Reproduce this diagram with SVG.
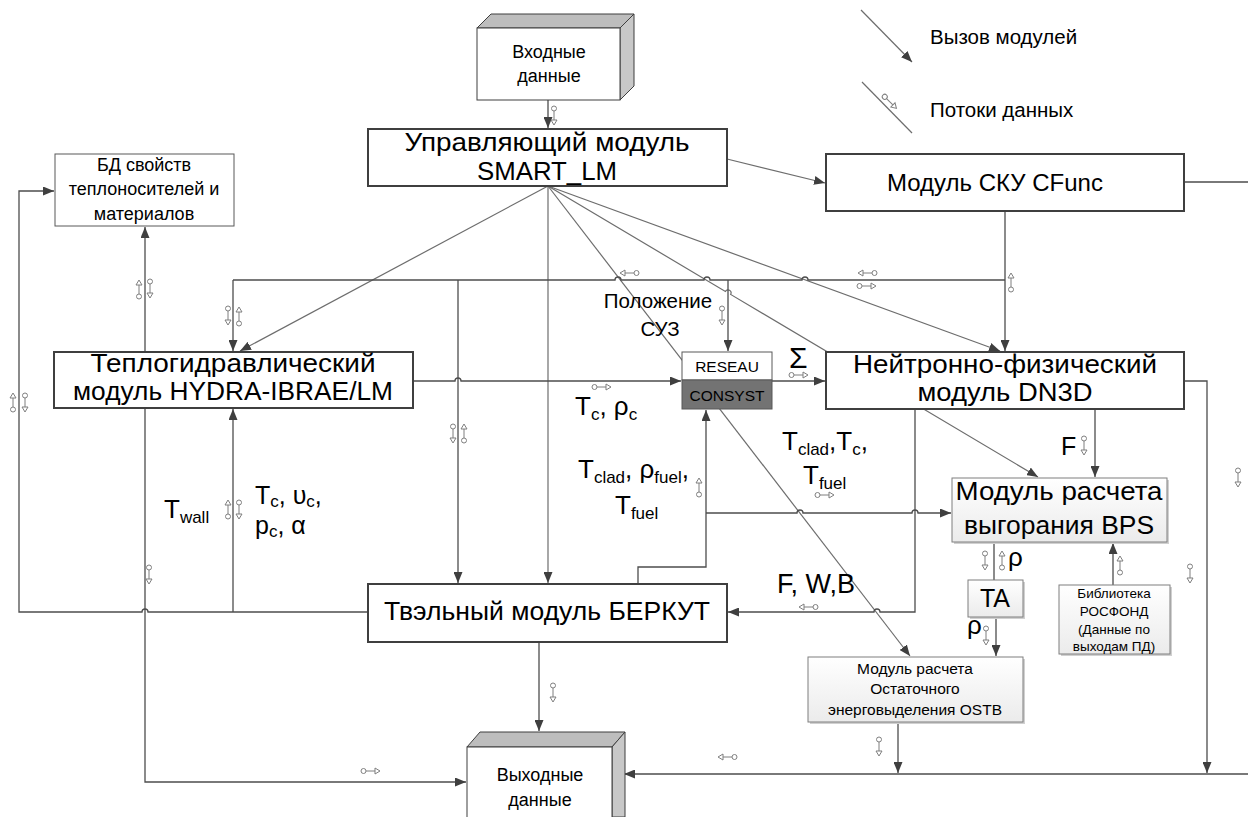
<svg xmlns="http://www.w3.org/2000/svg" xmlns:xlink="http://www.w3.org/1999/xlink" width="1248" height="817" viewBox="0 0 1248 817">
<style>
text{font-family:"Liberation Sans",Arial,sans-serif;fill:#000}
.big{font-size:25px}
.mid{font-size:18px}
.lbl{font-size:26px}
.sub{font-size:17px}
.box{fill:#fff;stroke:#3f3f3f;stroke-width:2}
.thin{fill:#fff;stroke:#595959;stroke-width:1}
.grad{fill:url(#g);stroke:#7f7f7f;stroke-width:1}
.shadow{fill:#d0d0d0}
.call{fill:none;stroke:#6d6d6d;stroke-width:1.2}
.data{fill:none;stroke:#4d4d4d;stroke-width:1.3}
.arr{marker-end:url(#ah)}
.df{fill:#fff;stroke:#7f7f7f;stroke-width:1}
</style>
<defs>
<linearGradient id="g" x1="0" y1="0" x2="0" y2="1">
<stop offset="0" stop-color="#ffffff"/>
<stop offset="1" stop-color="#ebebeb"/>
</linearGradient>
<marker id="ah" markerWidth="11" markerHeight="9" refX="11" refY="4.5" orient="auto" markerUnits="userSpaceOnUse">
<path d="M0,0 L11,4.5 L0,9 z" fill="#3f3f3f"/>
</marker>
<g id="df" class="df">
<circle cx="0" cy="2.5" r="2.5"/>
<path d="M0,5 V14" fill="none"/>
<path d="M-3,14 L3,14 L0,19 z"/>
</g>
</defs>

<g id="connectors">
<path class="data arr" d="M548,100 V128"/>
<path class="call arr" d="M727,159 L825,183"/>
<path class="call arr" d="M548,186 L240,351"/>
<path class="call arr" d="M548,186 V583"/>
<path class="call arr" d="M548,186 L910,656"/>
<path class="call arr" d="M548,186 L725.4,291.4 A3,3 0 0 1 730.6,294.4 L1038,477"/>
<path class="call arr" d="M548,186 L1000,351"/>
<path class="data" d="M1184,182 H1248"/>
<path class="data arr" d="M1005,211 V351"/>
<path class="data" d="M233,280 H615 A3,3 0 0 1 621,280 H704 A3,3 0 0 1 710,280 H802 A3,3 0 0 1 808,280 H1005"/>
<path class="data arr" d="M233,280 V351"/>
<path class="data arr" d="M458,280 V583"/>
<path class="data arr" d="M728,280 V351"/>
<path class="data arr" d="M413,381 H455 A3,3 0 0 1 461,381 H681"/>
<path class="data arr" d="M772,381 H825"/>
<path class="data arr" d="M638,584 V567 H706 V410"/>
<path class="data arr" d="M706,513 H797 A3,3 0 0 1 803,513 H912 A3,3 0 0 1 918,513 H951"/>
<path class="data arr" d="M915,409 V612 H880 A3,3 0 0 0 874,612 H728"/>
<path class="data arr" d="M1095,409 V477"/>
<path class="data" d="M994,542 V580"/>
<path class="data arr" d="M996,617 V656"/>
<path class="data arr" d="M1113,585 V543"/>
<path class="data arr" d="M898,722 V773"/>
<path class="data arr" d="M1248,774 H624"/>
<path class="data arr" d="M1184,381 H1207 V773"/>
<path class="data arr" d="M539,642 V731"/>
<path class="data arr" d="M368,612 H148 A3,3 0 0 0 142,612 H19 V191 H54"/>
<path class="data arr" d="M233,612 V409"/>
<path class="data arr" d="M145,408 V782 H466"/>
<path class="data arr" d="M145,352 V227"/>
<path class="call arr" d="M861,10 L912,62"/>
<path class="call" d="M862,82 L912,133"/>
<use href="#df" transform="translate(554,106)"/>
<use href="#df" transform="translate(883,95) rotate(-45)"/>
<use href="#df" transform="translate(139,299) rotate(180)"/>
<use href="#df" transform="translate(150,279)"/>
<use href="#df" transform="translate(13,412) rotate(180)"/>
<use href="#df" transform="translate(25,393)"/>
<use href="#df" transform="translate(228,306)"/>
<use href="#df" transform="translate(239,326) rotate(180)"/>
<use href="#df" transform="translate(639,273) rotate(90)"/>
<use href="#df" transform="translate(877,273) rotate(90)"/>
<use href="#df" transform="translate(857,286) rotate(-90)"/>
<use href="#df" transform="translate(1011,292) rotate(180)"/>
<use href="#df" transform="translate(722,306)"/>
<use href="#df" transform="translate(453,424)"/>
<use href="#df" transform="translate(464,443) rotate(180)"/>
<use href="#df" transform="translate(592,387) rotate(-90)"/>
<use href="#df" transform="translate(789,375) rotate(-90)"/>
<use href="#df" transform="translate(699,497) rotate(180)"/>
<use href="#df" transform="translate(815,495) rotate(-90)"/>
<use href="#df" transform="translate(818,607) rotate(90)"/>
<use href="#df" transform="translate(1084,436)"/>
<use href="#df" transform="translate(985,551)"/>
<use href="#df" transform="translate(1002,570) rotate(180)"/>
<use href="#df" transform="translate(1120,575) rotate(180)"/>
<use href="#df" transform="translate(986,626)"/>
<use href="#df" transform="translate(879,737)"/>
<use href="#df" transform="translate(737,757) rotate(90)"/>
<use href="#df" transform="translate(1190,564)"/>
<use href="#df" transform="translate(1238,468)"/>
<use href="#df" transform="translate(553,683)"/>
<use href="#df" transform="translate(149,565)"/>
<use href="#df" transform="translate(361,771) rotate(-90)"/>
<use href="#df" transform="translate(228,519) rotate(180)"/>
<use href="#df" transform="translate(239,500)"/>
</g>

<g id="input">
<polygon points="477,28 491,14 634,14 620,28" fill="#bdbdbd" stroke="#3f3f3f" stroke-width="1"/>
<polygon points="620,28 634,14 634,86 620,100" fill="#c8c8c8" stroke="#3f3f3f" stroke-width="1"/>
<rect x="477" y="28" width="143" height="72" fill="#fff" stroke="#3f3f3f" stroke-width="1"/>
<text class="mid" text-anchor="middle"><tspan x="549" y="58">Входные</tspan><tspan x="549" y="82">данные</tspan></text>
</g>

<g id="smart">
<rect class="box" x="368" y="129" width="359" height="57"/>
<text class="big" text-anchor="middle"><tspan x="547" y="151" textLength="285" lengthAdjust="spacingAndGlyphs">Управляющий модуль</tspan><tspan x="547" y="180" textLength="140" lengthAdjust="spacingAndGlyphs">SMART_LM</tspan></text>
</g>

<g id="cfunc">
<rect class="box" x="826" y="154" width="358" height="57"/>
<text x="995" y="191" text-anchor="middle" font-size="24">Модуль СКУ CFunc</text>
</g>

<g id="bd">
<rect class="thin" x="55" y="154" width="179" height="72"/>
<text class="mid" text-anchor="middle"><tspan x="144" y="171">БД свойств</tspan><tspan x="144" y="195">теплоносителей и</tspan><tspan x="144" y="220">материалов</tspan></text>
</g>

<g id="hydra">
<rect class="box" x="54" y="352" width="359" height="56"/>
<text class="big" text-anchor="middle"><tspan x="233" y="372" textLength="285" lengthAdjust="spacingAndGlyphs">Теплогидравлический</tspan><tspan x="233" y="400" textLength="320" lengthAdjust="spacingAndGlyphs">модуль HYDRA-IBRAE/LM</tspan></text>
</g>

<g id="reseau">
<rect x="682" y="352" width="90" height="28" fill="#fff" stroke="#595959" stroke-width="1"/>
<rect x="682" y="380" width="90" height="29" fill="#737373" stroke="#595959" stroke-width="1"/>
<text x="727" y="372" text-anchor="middle" font-size="15.5">RESEAU</text>
<text x="727" y="401" text-anchor="middle" font-size="15.5">CONSYST</text>
</g>

<g id="dn3d">
<rect class="box" x="826" y="352" width="358" height="57"/>
<text class="big" text-anchor="middle"><tspan x="1005" y="373" textLength="304" lengthAdjust="spacingAndGlyphs">Нейтронно-физический</tspan><tspan x="1005" y="401" textLength="175" lengthAdjust="spacingAndGlyphs">модуль DN3D</tspan></text>
</g>

<g id="bps">
<rect class="shadow" x="954" y="480" width="215" height="64"/>
<rect class="grad" x="952" y="478" width="215" height="64"/>
<text class="big" text-anchor="middle"><tspan x="1059" y="500" textLength="207" lengthAdjust="spacingAndGlyphs">Модуль расчета</tspan><tspan x="1059" y="534" textLength="190" lengthAdjust="spacingAndGlyphs">выгорания BPS</tspan></text>
</g>

<g id="ta">
<rect class="shadow" x="970" y="582" width="55" height="37"/>
<rect class="grad" x="968" y="580" width="55" height="37"/>
<text class="big" x="995" y="607" text-anchor="middle">TA</text>
</g>

<g id="rosfond">
<rect class="shadow" x="1061" y="587" width="111" height="69"/>
<rect class="grad" x="1059" y="585" width="111" height="69"/>
<text text-anchor="middle" font-size="13.5"><tspan x="1114" y="598">Библиотека</tspan><tspan x="1114" y="616">РОСФОНД</tspan><tspan x="1114" y="634">(Данные по</tspan><tspan x="1114" y="651">выходам ПД)</tspan></text>
</g>

<g id="ostb">
<rect class="shadow" x="810" y="659" width="215" height="65"/>
<rect class="grad" x="808" y="657" width="215" height="65"/>
<text text-anchor="middle" font-size="15.5"><tspan x="915" y="674">Модуль расчета</tspan><tspan x="915" y="694">Остаточного</tspan><tspan x="915" y="715">энерговыделения OSTB</tspan></text>
</g>

<g id="tvel">
<rect class="box" x="368" y="584" width="359" height="58"/>
<text class="big" x="547" y="620" text-anchor="middle" textLength="326" lengthAdjust="spacingAndGlyphs">Твэльный модуль БЕРКУТ</text>
</g>

<g id="output">
<polygon points="467,747 480,732 625,732 612,747" fill="#bdbdbd" stroke="#3f3f3f" stroke-width="1"/>
<polygon points="612,747 625,732 625,817 612,817" fill="#c8c8c8" stroke="#3f3f3f" stroke-width="1"/>
<rect x="467" y="747" width="145" height="75" fill="#fff" stroke="#3f3f3f" stroke-width="1"/>
<text class="mid" text-anchor="middle"><tspan x="540" y="781">Выходные</tspan><tspan x="540" y="806">данные</tspan></text>
</g>

<g id="labels">
<text x="930" y="44" font-size="20.5">Вызов модулей</text>
<text x="930" y="117" font-size="20.5">Потоки данных</text>
<text text-anchor="middle" font-size="20.5"><tspan x="658" y="308">Положение</tspan><tspan x="660" y="336">СУЗ</tspan></text>
<text x="789" y="368" font-size="30">Σ</text>
<text class="lbl" x="575" y="415">T<tspan class="sub" dy="5">c</tspan><tspan dy="-5">, ρ</tspan><tspan class="sub" dy="5">c</tspan></text>
<text class="lbl"><tspan x="578" y="478">T</tspan><tspan class="sub" dy="5">clad</tspan><tspan dy="-5">, ρ</tspan><tspan class="sub" dy="5">fuel</tspan><tspan dy="-5">,</tspan><tspan x="615" y="514">T</tspan><tspan class="sub" dy="5">fuel</tspan></text>
<text class="lbl"><tspan x="782" y="450">T</tspan><tspan class="sub" dy="5">clad</tspan><tspan dy="-5">,T</tspan><tspan class="sub" dy="5">c</tspan><tspan dy="-5">,</tspan><tspan x="803" y="484">T</tspan><tspan class="sub" dy="5">fuel</tspan></text>
<text x="777" y="593" font-size="27">F, W,B</text>
<text x="1061" y="455" font-size="25">F</text>
<text x="1008" y="566" font-size="26">ρ</text>
<text x="967" y="634" font-size="26">ρ</text>
<text class="lbl" x="164" y="518">T<tspan class="sub" dy="5">wall</tspan></text>
<text font-size="25"><tspan x="255" y="504">T</tspan><tspan class="sub" font-size="16" dy="3">c</tspan><tspan dy="-3">, υ</tspan><tspan class="sub" font-size="16" dy="3">c</tspan><tspan dy="-3">,</tspan><tspan x="255" y="534">p</tspan><tspan class="sub" font-size="16" dy="3">c</tspan><tspan dy="-3">, α</tspan></text>
</g>
</svg>
